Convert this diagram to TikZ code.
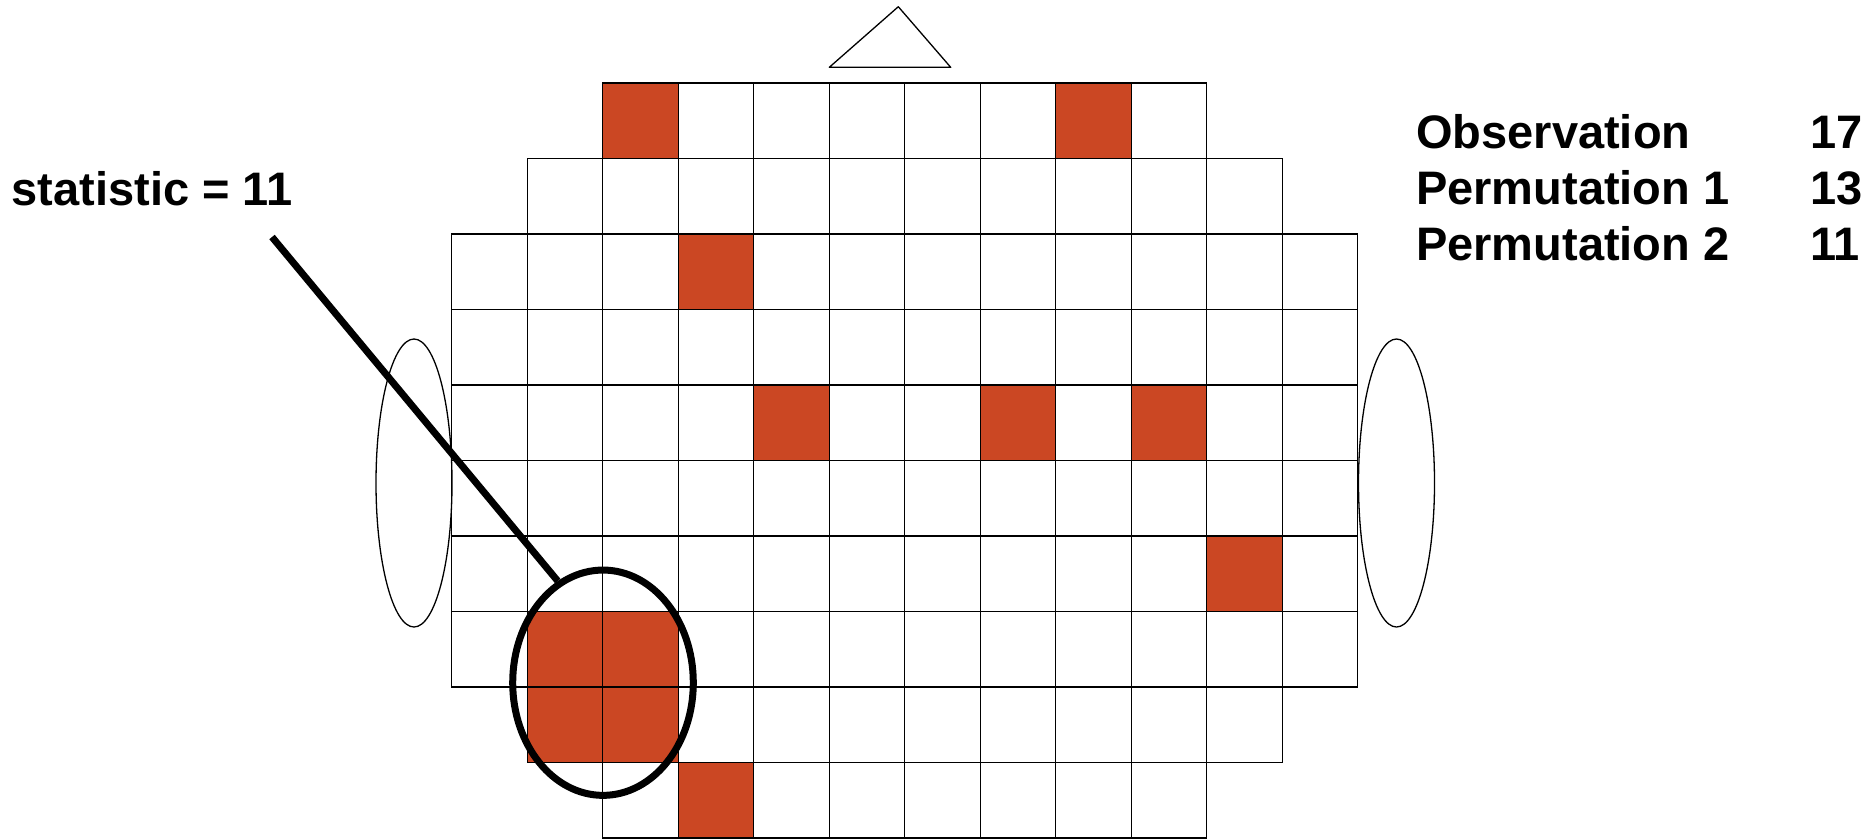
\documentclass[tikz,border=0pt]{standalone}
\usepackage{fontspec}
\setmainfont{Liberation Sans}
\usetikzlibrary{shapes.geometric,positioning}
\definecolor{hitred}{RGB}{203,71,35}
\tikzset{
  ear/.style={draw, ellipse, line width=1.3pt, minimum width=76pt, minimum height=288pt, inner sep=0pt},
  lbl/.style={font=\fontsize{47}{56}\selectfont\bfseries, inner sep=0pt},
}

\begin{document}
\begin{tikzpicture}[x=1pt,y=-1pt]
\useasboundingbox (0,0) rectangle (1862,839);
\begin{scope}[shift={(451.7,83)}, x=75.5pt, y=-75.5pt]
  \foreach \c/\r in {2/0,8/0,3/2,4/4,7/4,9/4,10/6,1/7,2/7,1/8,2/8,3/9}
    \fill[hitred] (\c,\r) rectangle ++(1,1);
  \foreach \r/\a/\b in {0/2/9,1/1/10,2/0/11,3/0/11,4/0/11,5/0/11,6/0/11,7/0/11,8/1/10,9/2/9}
    \foreach \c in {\a,...,\b}
      \draw[line width=1.4pt] (\c,\r) rectangle ++(1,1);
\end{scope}
\node[ear] (lear) at (414,483) {};
\node[ear] (rear) at (1396.5,483) {};
\draw[line width=1.3pt, line join=round] (829.3,67.3) -- (898.3,6.7) -- (950.7,67.3) -- cycle;
\node[draw, ellipse, line width=7pt, minimum width=180.6pt, minimum height=225.3pt, inner sep=0pt] (clus) at (603,682.7) {};
\node[lbl, anchor=base west] (stat) at (11.5,205) {statistic = 11};
\coordinate (tail) at (272,237);
\draw[line width=7pt] (tail) -- (clus.114);
\node[lbl, anchor=base west] (obs) at (1416,148.3) {Observation};
\node[lbl, anchor=base west] (perma) at (1416,204) {Permutation 1};
\node[lbl, anchor=base west] (permb) at (1416,260.5) {Permutation 2};
\node[lbl, anchor=base west] (obsv) at (1810,148.3) {17};
\node[lbl, anchor=base west] (permav) at (1810,204) {13};
\node[lbl, anchor=base west] (permbv) at (1810,260.5) {11};
\end{tikzpicture}
\end{document}
